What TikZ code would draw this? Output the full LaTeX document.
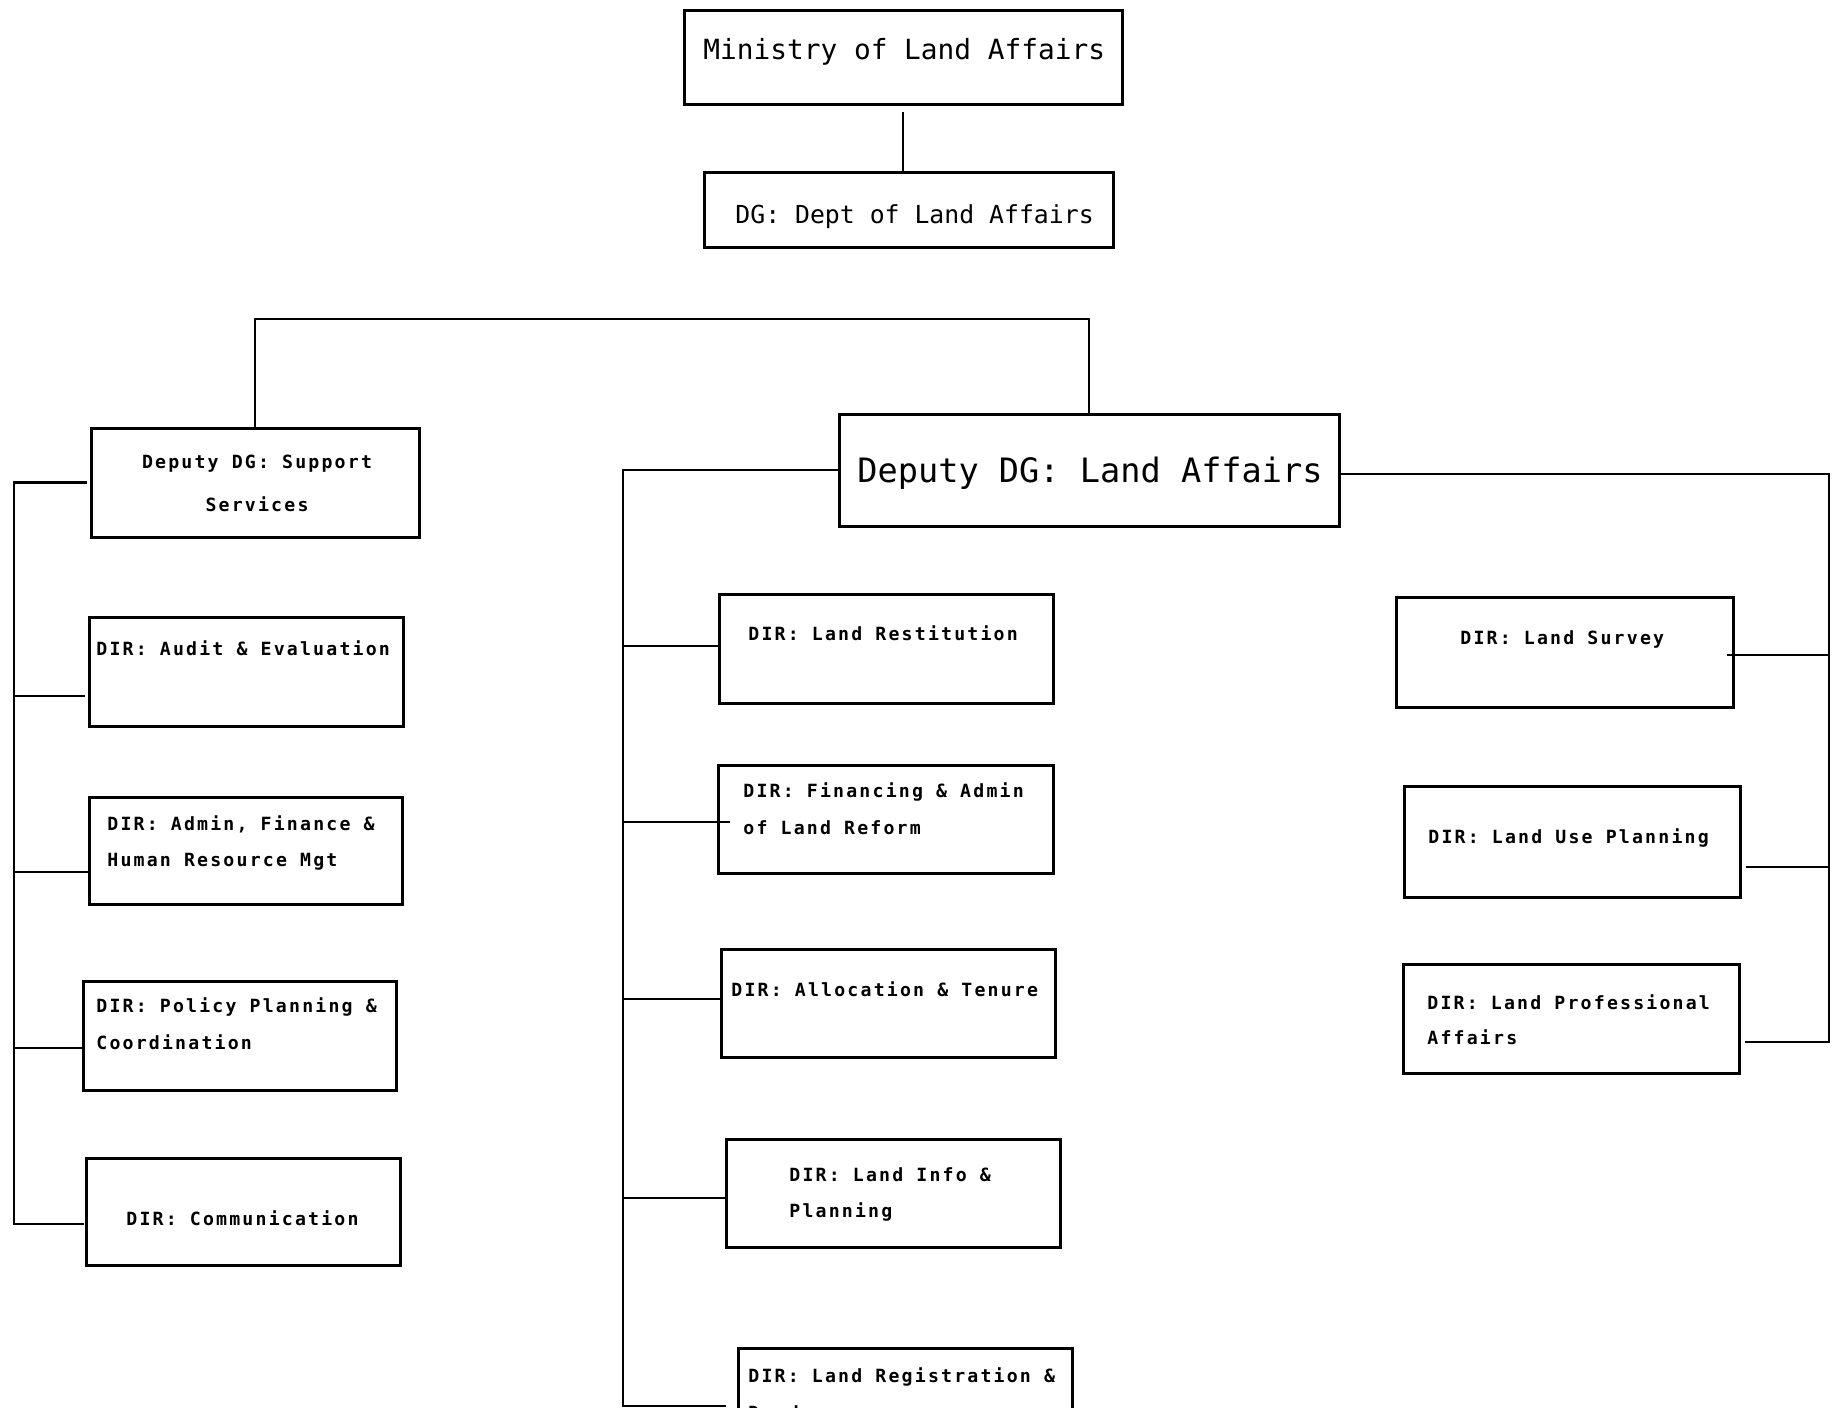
\documentclass[tikz,border=0pt]{standalone}
\usepackage{fontspec}
\newfontfamily\bigf{DejaVu Sans Mono}
\newfontfamily\smallf{DejaVu Sans Mono}[LetterSpace=12.0]
\usetikzlibrary{fit}
\begin{document}
\begin{tikzpicture}[x=0.5pt,y=-0.5pt,
  box/.style={draw, line width=1.5pt, inner sep=0pt, outer sep=0pt},
  conn/.style={line width=1.3pt},
  lbl/.style={anchor=base west, inner sep=0pt, font=\smallf\bfseries\fontsize{9.1}{10}\selectfont},
  clbl/.style={anchor=base, inner sep=0pt, font=\smallf\bfseries\fontsize{9.1}{10}\selectfont},
  bigl/.style={anchor=base west, inner sep=0pt, font=\bigf\fontsize{13.9}{16}\selectfont},
  dgl/.style={anchor=base west, inner sep=0pt, font=\bigf\fontsize{12.4}{14}\selectfont},
  ddgl/.style={anchor=base west, inner sep=0pt, font=\bigf\fontsize{16.8}{18}\selectfont}]
\clip (0,0) rectangle (1832,1408);
\fill[white] (0,0) rectangle (1832,1408);

% boxes
\node[box, fit={(684,10) (1122,104)}] (min) {};
\node[box, fit={(704,172) (1113,247)}] (dg) {};
\node[box, fit={(91,428) (419,537)}] (ddgs) {};
\node[box, fit={(89,617) (403,726)}] (audit) {};
\node[box, fit={(89,797) (402,904)}] (admin) {};
\node[box, fit={(83,981) (396,1090)}] (policy) {};
\node[box, fit={(86,1158) (400,1265)}] (comm) {};
\node[box, fit={(839,414) (1339,526)}] (ddgla) {};
\node[box, fit={(719,594) (1053,703)}] (rest) {};
\node[box, fit={(718,765) (1053,873)}] (fin) {};
\node[box, fit={(721,949) (1055,1057)}] (alloc) {};
\node[box, fit={(726,1139) (1060,1247)}] (info) {};
\node[box, fit={(738,1348) (1072,1460)}] (reg) {};
\node[box, fit={(1396,597) (1733,707)}] (survey) {};
\node[box, fit={(1404,786) (1740,897)}] (use) {};
\node[box, fit={(1403,964) (1739,1073)}] (prof) {};

% texts
\node[bigl] (min-t) at (703,59) {Ministry of Land Affairs};
\node[dgl] (dg-t) at (735,223) {DG: Dept of Land Affairs};
\node[ddgl] (ddgla-t) at (857,482) {Deputy DG: Land Affairs};
\node[clbl] (ddgs-t1) at (257,468) {Deputy DG: Support};
\node[clbl] (ddgs-t2) at (257,511) {Services};
\node[lbl] (audit-t) at (96,655) {DIR: Audit \& Evaluation};
\node[lbl] (admin-t1) at (107,830) {DIR: Admin, Finance \&};
\node[lbl] (admin-t2) at (107,866) {Human Resource Mgt};
\node[lbl] (policy-t1) at (96,1012) {DIR: Policy Planning \&};
\node[lbl] (policy-t2) at (96,1049) {Coordination};
\node[lbl] (comm-t) at (126,1225) {DIR: Communication};
\node[lbl] (rest-t) at (748,640) {DIR: Land Restitution};
\node[lbl] (fin-t1) at (743,797) {DIR: Financing \& Admin};
\node[lbl] (fin-t2) at (743,834) {of Land Reform};
\node[lbl] (alloc-t) at (731,996) {DIR: Allocation \& Tenure};
\node[lbl] (info-t1) at (789,1181) {DIR: Land Info \&};
\node[lbl] (info-t2) at (789,1217) {Planning};
\node[lbl] (reg-t1) at (748,1382) {DIR: Land Registration \&};
\node[lbl] (reg-t2) at (748,1419) {Deeds};
\node[lbl] (survey-t) at (1460,644) {DIR: Land Survey};
\node[lbl] (use-t) at (1428,843) {DIR: Land Use Planning};
\node[lbl] (prof-t1) at (1427,1009) {DIR: Land Professional};
\node[lbl] (prof-t2) at (1427,1044) {Affairs};

% bus coordinates
\coordinate (topbus) at (0,319);
\coordinate (lbus) at (14,0);
\coordinate (mbus) at (623,0);
\coordinate (rbus) at (1829,0);

% attach points
\coordinate (ddgs-in) at ([xshift=-2pt]ddgs.west);
\coordinate (audit-in) at ([yshift=-12.25pt,xshift=-2pt]audit.west);
\coordinate (admin-in) at ([yshift=-10.75pt]admin.west);
\coordinate (policy-in) at ([yshift=-6.25pt]policy.west);
\coordinate (comm-in) at ([yshift=-6.25pt,xshift=-1pt]comm.west);
\coordinate (rest-in) at ([yshift=1.25pt]rest.west);
\coordinate (fin-in) at ([yshift=-1.5pt,xshift=6pt]fin.west);
\coordinate (alloc-in) at ([yshift=2pt]alloc.west);
\coordinate (info-in) at ([yshift=-2.5pt]info.west);
\coordinate (reg-in) at ([yshift=-29pt,xshift=-6pt]reg.north west);
\coordinate (ddgla-out) at ([yshift=-2pt]ddgla.east);
\coordinate (survey-in) at ([yshift=-1.5pt,xshift=-3pt]survey.east);
\coordinate (use-in) at ([yshift=-12.75pt,xshift=3pt]use.east);
\coordinate (prof-in) at ([yshift=-11.75pt,xshift=3pt]prof.east);

% connectors
\draw[conn, shorten <=4pt] (min.south) -- (min.south |- dg.north);
\draw[conn] (ddgs.north) -- (ddgs.north |- topbus) -- (ddgla.north |- topbus) -- (ddgla.north);

\draw[conn] (ddgs-in) -- (ddgs-in -| lbus) -- (comm-in -| lbus) -- (comm-in);
\draw[conn] (audit-in -| lbus) -- (audit-in);
\draw[conn] (admin-in -| lbus) -- (admin-in);
\draw[conn] (policy-in -| lbus) -- (policy-in);

\draw[conn] (ddgla.west) -- (ddgla.west -| mbus) -- (reg-in -| mbus) -- (reg-in);
\draw[conn] (rest-in -| mbus) -- (rest-in);
\draw[conn] (fin-in -| mbus) -- (fin-in);
\draw[conn] (alloc-in -| mbus) -- (alloc-in);
\draw[conn] (info-in -| mbus) -- (info-in);

\draw[conn] (ddgla-out) -- (ddgla-out -| rbus) -- (prof-in -| rbus) -- (prof-in);
\draw[conn] (survey-in) -- (survey-in -| rbus);
\draw[conn] (use-in) -- (use-in -| rbus);
\end{tikzpicture}
\end{document}
